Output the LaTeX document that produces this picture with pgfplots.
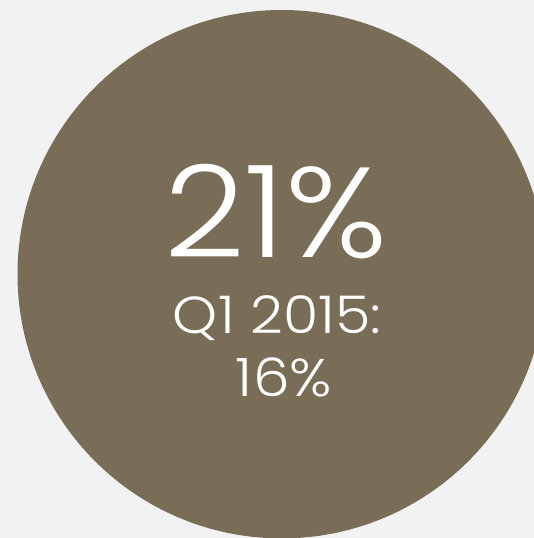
\documentclass[border=0pt]{standalone}
\usepackage{pgfplots}
\pgfplotsset{compat=1.18}
\usepackage{fontspec}
\setmainfont{Poppins Light}[FakeStretch=1.1]
\definecolor{bg}{HTML}{F2F2F2}
\definecolor{disc}{HTML}{7A6D57}
\begin{document}
\begin{tikzpicture}
\begin{axis}[
  scale only axis, width=534pt, height=538pt,
  xmin=0, xmax=534, ymin=0, ymax=538, y dir=reverse,
  hide axis, clip=true,
  axis background/.style={fill=bg},
]
\addplot[draw=none, mark=none] coordinates {(0,0) (534,538)};
\fill[disc] (axis cs:281.7,274.2) circle [radius=264.2];
\node[white, anchor=base, font=\fontsize{128}{128}\selectfont, inner sep=0pt] at (axis cs:276,257) {21\%};
\node[white, anchor=base, font=\fontsize{52}{52}\selectfont, inner sep=0pt] at (axis cs:277,333) {Q1 2015:};
\node[white, anchor=base, font=\fontsize{53}{53}\selectfont, inner sep=0pt] at (axis cs:284,396) {16\%};
\end{axis}
\end{tikzpicture}
\end{document}
